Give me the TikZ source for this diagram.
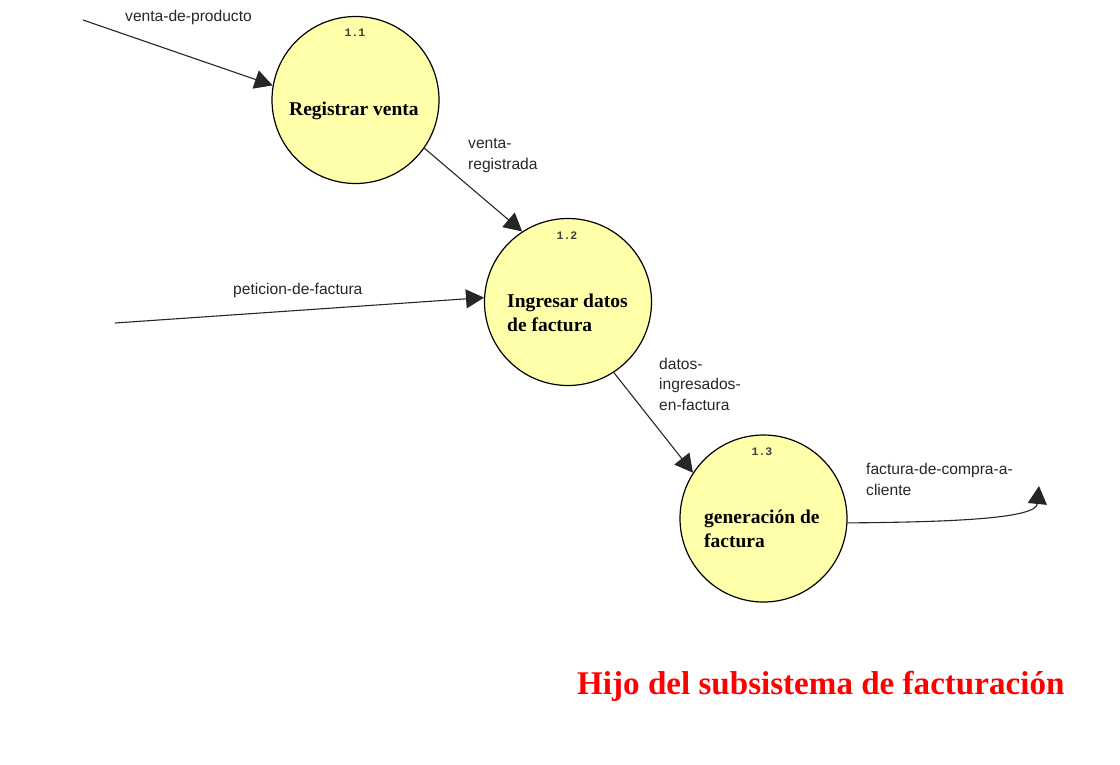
\documentclass[tikz,border=0pt]{standalone}
\usepackage{fontspec}
\setmainfont{Liberation Serif}
\setsansfont{Liberation Sans}
\setmonofont{Liberation Mono}
\usetikzlibrary{arrows.meta}
\definecolor{bubble}{HTML}{FFFFAA}
\definecolor{titlered}{HTML}{FF0000}
\tikzset{
  proc/.style={circle, draw=black, line width=1.2pt, fill=bubble, minimum size=167pt, inner sep=0pt},
  flow/.style={draw=black!85, line width=1.1pt, -{Triangle[length=18pt,width=19pt]}},
  flowlbl/.style={font=\sffamily\fontsize{15.6}{20.5}\selectfont, align=left, anchor=base west, inner sep=0pt, text=black!85},
  proclbl/.style={font=\rmfamily\bfseries\fontsize{19.5}{24}\selectfont, align=left, anchor=base west, inner sep=0pt},
  numlbl/.style={font=\ttfamily\bfseries\fontsize{11.5}{12}\selectfont, anchor=base, inner sep=0pt, text=black!75},
}
\begin{document}
\begin{tikzpicture}[x=1pt,y=-1pt]
\useasboundingbox (0,0) rectangle (1120,764);

% processes
\node[proc] (c1) at (355.5,100) {};
\node[proc] (c2) at (568,302) {};
\node[proc] (c3) at (763.5,518.5) {};

\node[numlbl] (n1) at (355,36) {1.1};
\node[numlbl] (n2) at (567,239) {1.2};
\node[numlbl] (n3) at (762,455) {1.3};

% (base anchor of a multi-line node = baseline of its last line)
\node[proclbl] (t1) at (289,115) {Registrar venta};
\node[proclbl] (t2) at (507,331) {Ingresar datos\\de factura};
\node[proclbl] (t3) at (704,547) {generación de\\factura};

% free ends
\coordinate (src1) at (83,20);
\coordinate (src2) at (115,323);
\coordinate (sink) at (1039,486);

% flows
\draw[flow] (src1) -- (c1.170);
\draw[flow] (c1.-35) -- (c2.123);
\draw[flow] (src2) -- (c2.177);
\draw[flow] (c2.-57) -- (c3.147);
\draw[flow] (c3.-3) .. controls (960,522) and (1036,518) .. (sink);

% flow labels
\node[flowlbl] (l1) at (125,21) {venta-de-producto};
\node[flowlbl] (l2) at (468,169) {venta-\\registrada};
\node[flowlbl] (l3) at (233,294) {peticion-de-factura};
\node[flowlbl] (l4) at (659,410) {datos-\\ingresados-\\en-factura};
\node[flowlbl] (l5) at (866,495) {factura-de-compra-a-\\cliente};

% title
\node[font=\rmfamily\bfseries\fontsize{33.1}{36}\selectfont, text=titlered, anchor=base west, inner sep=0pt] (title) at (577,694) {Hijo del subsistema de facturación};
\end{tikzpicture}
\end{document}
